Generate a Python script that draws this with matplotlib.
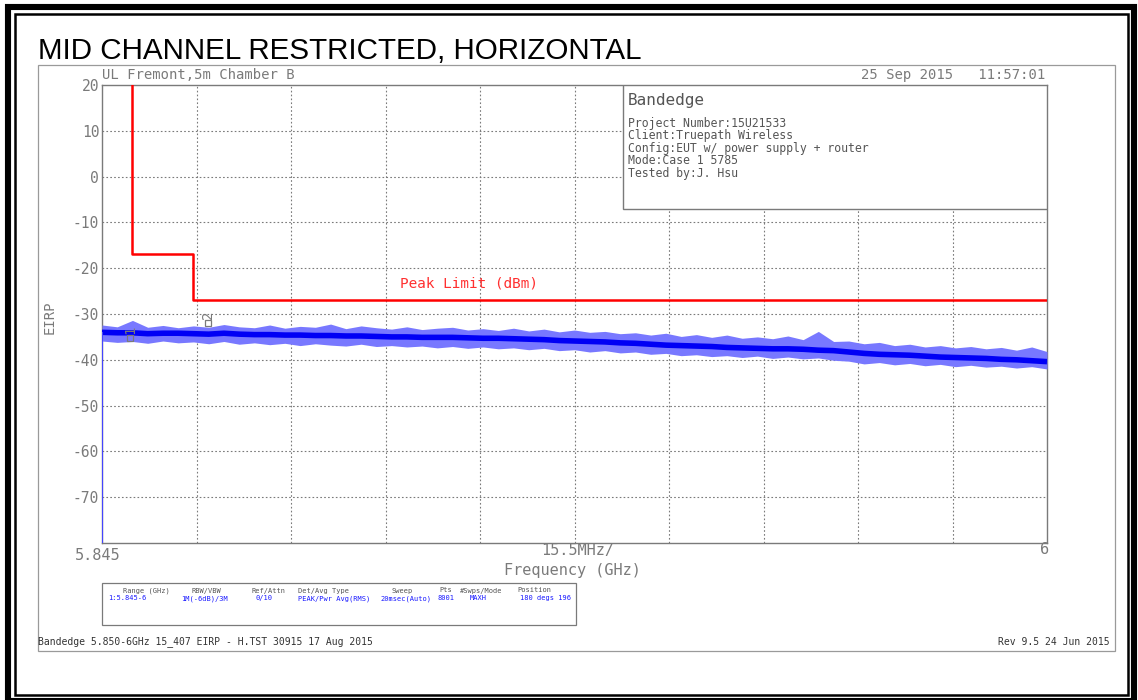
import matplotlib
matplotlib.use('Agg')
import matplotlib.pyplot as plt
from matplotlib.patches import Rectangle

# spectrum trace, every 2.5 MHz (dBm)
freq_ghz = [5.8450, 5.8475, 5.8500, 5.8525, 5.8550, 5.8575, 5.8600, 5.8625, 5.8650, 5.8675,
            5.8700, 5.8725, 5.8750, 5.8775, 5.8800, 5.8825, 5.8850, 5.8875, 5.8900, 5.8925,
            5.8950, 5.8975, 5.9000, 5.9025, 5.9050, 5.9075, 5.9100, 5.9125, 5.9150, 5.9175,
            5.9200, 5.9225, 5.9250, 5.9275, 5.9300, 5.9325, 5.9350, 5.9375, 5.9400, 5.9425,
            5.9450, 5.9475, 5.9500, 5.9525, 5.9550, 5.9575, 5.9600, 5.9625, 5.9650, 5.9675,
            5.9700, 5.9725, 5.9750, 5.9775, 5.9800, 5.9825, 5.9850, 5.9875, 5.9900, 5.9925,
            5.9950, 5.9975, 6.0000]
trace_mid = [-34.0, -34.1, -34.1, -34.3, -34.2, -34.2, -34.3, -34.4, -34.2, -34.4,
             -34.5, -34.5, -34.6, -34.6, -34.7, -34.7, -34.8, -34.8, -34.9, -35.0,
             -35.0, -35.1, -35.1, -35.1, -35.2, -35.3, -35.3, -35.4, -35.5, -35.6,
             -35.8, -35.9, -36.0, -36.1, -36.3, -36.4, -36.6, -36.8, -36.9, -37.0,
             -37.1, -37.3, -37.4, -37.5, -37.6, -37.6, -37.7, -37.9, -38.0, -38.3,
             -38.6, -38.8, -38.9, -39.0, -39.2, -39.4, -39.5, -39.6, -39.7, -39.9,
             -40.0, -40.2, -40.4]
trace_hi = [-32.4, -32.8, -31.4, -32.9, -32.5, -33.0, -32.6, -32.9, -32.3, -32.8,
            -33.0, -32.4, -33.1, -32.7, -32.9, -32.2, -33.2, -32.6, -33.0, -33.3,
            -32.8, -33.4, -33.1, -32.9, -33.5, -33.2, -33.6, -33.1, -33.7, -33.3,
            -33.9, -33.5, -34.0, -33.8, -34.3, -34.1, -34.6, -34.2, -34.9, -34.5,
            -35.1, -34.6, -35.3, -35.0, -35.4, -34.8, -35.6, -33.8, -36.0, -35.9,
            -36.5, -36.2, -36.9, -36.6, -37.2, -36.9, -37.4, -37.1, -37.6, -37.3,
            -37.9, -37.2, -38.2]
trace_lo = [-35.9, -36.2, -36.0, -36.4, -35.9, -36.3, -36.1, -36.5, -36.0, -36.6,
            -36.3, -36.7, -36.4, -36.9, -36.5, -36.8, -37.0, -36.6, -37.1, -36.9,
            -37.2, -37.0, -37.4, -37.1, -37.5, -37.2, -37.6, -37.4, -37.8, -37.5,
            -38.0, -37.8, -38.3, -38.0, -38.5, -38.3, -38.8, -38.6, -39.1, -38.9,
            -39.3, -39.1, -39.5, -39.2, -39.7, -39.4, -39.8, -39.6, -40.1, -40.3,
            -40.9, -40.6, -41.1, -40.8, -41.3, -41.0, -41.5, -41.2, -41.6, -41.4,
            -41.8, -41.5, -42.0]

# peak limit (dBm)
limit_freq = [5.8499, 5.8499, 5.8600, 5.8600, 6.000]
limit_db = [20, -17, -17, -27, -27]

marker_freq = [5.8496, 5.8624]
marker_db = [-35.3, -32.0]
marker_names = ['1', '2']

yticks = [20, 10, 0, -10, -20, -30, -40, -50, -60, -70]

info_lines = ['Project Number:15U21533', 'Client:Truepath Wireless',
              'Config:EUT w/ power supply + router', 'Mode:Case 1 5785',
              'Tested by:J. Hsu']
table_heads = ['Range (GHz)', 'RBW/VBW', 'Ref/Attn', 'Det/Avg Type', 'Sweep',
               'Pts', '#Swps/Mode', 'Position']
table_vals = ['1:5.845-6', '1M(-6dB)/3M', '0/10', 'PEAK/Pwr Avg(RMS)',
              '20msec(Auto)', '8001', 'MAXH', '180 degs 196']
head_x = [146, 206, 269, 324, 402, 446, 481, 534]
val_x = [127, 205, 264, 334, 406, 446, 478, 545]

gray = '#7a7a7a'
mono = 'DejaVu Sans Mono'

fig = plt.figure(figsize=(11.38, 7.0), dpi=100)
W, H = 1138, 700

def fx(px):
    return px / W

def fy(py):
    return 1 - py / H

def frame(x0, y0, x1, y1, lw, color):
    fig.patches.append(Rectangle((fx(x0), fy(y1)), fx(x1 - x0), fy(y0) - fy(y1),
                                 transform=fig.transFigure, fill=False, lw=lw, ec=color))

# page frames
frame(8, 7, 1134, 701, 4.4, 'black')
frame(14.5, 14, 1128, 694.5, 1.8, 'black')
frame(38, 65, 1115, 651, 0.9, '#9a9a9a')

fig.text(fx(38), fy(59), 'MID CHANNEL RESTRICTED, HORIZONTAL', family='Liberation Sans',
         fontsize=21.3, va='baseline', ha='left')

ax = fig.add_axes([fx(102), fy(543), fx(1047 - 102), fy(85) - fy(543)])
ax.set_xlim(5.845, 6.0)
ax.set_ylim(-80, 20)

# grid
for k in range(1, 10):
    ax.axvline(5.845 + k * 0.0155, color=gray, ls=(0, (1.5, 2)), lw=0.8, zorder=1)
for v in yticks[1:]:
    ax.axhline(v, color=gray, ls=(0, (1.5, 2)), lw=0.8, zorder=1)
ax.set_xticks([])
ax.set_yticks(yticks)
ax.set_yticklabels([str(v) for v in yticks], family=mono, fontsize=10.5, color=gray)
ax.tick_params(axis='y', length=0, pad=2)
for s in ax.spines.values():
    s.set_color(gray)
    s.set_linewidth(1)

# trace
ax.fill_between(freq_ghz, trace_lo, trace_hi, color='#7878ff', lw=0, zorder=3)
ax.plot(freq_ghz, trace_mid, color='#0000f5', lw=4, zorder=4, solid_capstyle='butt')
ax.vlines(freq_ghz[0], -80, trace_mid[0], color='#4444ff', lw=1.5, zorder=4)

# limit
ax.plot(limit_freq, limit_db, color='#ff0000', lw=1.8, zorder=5)
ax.text(5.8938, -23.4, 'Peak Limit (dBm)', color='#ff3030', family=mono, fontsize=10.4,
        va='center', ha='left', zorder=6)

# markers
for f, d, n in zip(marker_freq, marker_db, marker_names):
    ax.plot([f], [d], marker='s', ms=5, mfc='none', mec=gray, mew=0.9, zorder=6)
    ax.text(f, d + 1.0, n, rotation=90, color=gray, family=mono, fontsize=10,
            ha='center', va='bottom', zorder=6)

# info box
ax.add_patch(Rectangle((0.5513, 0.729), 0.4487, 0.271, transform=ax.transAxes,
                       fc='white', ec=gray, lw=1, zorder=7))
ax.text(0.5566, 0.967, 'Bandedge', transform=ax.transAxes, family=mono, fontsize=11.5,
        color='#555555', va='center', ha='left', zorder=8)
for i, line in enumerate(info_lines):
    ax.text(0.5566, 0.917 - i * 0.0273, line, transform=ax.transAxes, family=mono,
            fontsize=8.3, color='#555555', va='center', ha='left', zorder=8)

# header texts
fig.text(fx(102), fy(75), 'UL Fremont,5m Chamber B', family=mono, fontsize=10,
         color=gray, ha='left', va='center')
fig.text(fx(1045), fy(75), '25 Sep 2015   11:57:01', family=mono, fontsize=10,
         color=gray, ha='right', va='center')

# x labels
fig.text(fx(98), fy(556), '5.845', family=mono, fontsize=11, color=gray, ha='center', va='center')
fig.text(fx(578), fy(550), '15.5MHz/', family=mono, fontsize=11, color=gray, ha='center', va='center')
fig.text(fx(1045), fy(550), '6', family=mono, fontsize=11, color=gray, ha='center', va='center')
fig.text(fx(572), fy(570), 'Frequency (GHz)', family=mono, fontsize=11, color=gray,
         ha='center', va='center')
fig.text(fx(50), fy(317), 'EIRP', family=mono, fontsize=10, color=gray, rotation=90,
         ha='center', va='center')

# settings table
frame(102, 583, 576, 625, 0.9, gray)
for hx, vx, h, v in zip(head_x, val_x, table_heads, table_vals):
    fig.text(fx(hx), fy(592.5), h, family=mono, fontsize=5, color='#555555',
             ha='center', va='baseline')
    fig.text(fx(vx), fy(600), v, family=mono, fontsize=5, color='#1a1aff',
             ha='center', va='baseline')

# footer
fig.text(fx(38), fy(642), 'Bandedge 5.850-6GHz 15_407 EIRP - H.TST 30915 17 Aug 2015',
         family=mono, fontsize=7, color='#333333', ha='left', va='center')
fig.text(fx(1110), fy(642), 'Rev 9.5 24 Jun 2015', family=mono, fontsize=7,
         color='#333333', ha='right', va='center')

fig.savefig('out.png', dpi=100)
